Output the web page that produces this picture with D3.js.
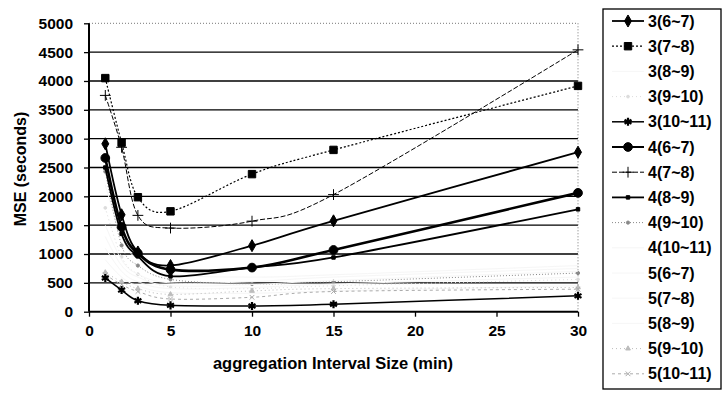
<!DOCTYPE html>
<html>
<head>
<meta charset="utf-8">
<script src="https://cdn.jsdelivr.net/npm/d3@7"></script>
<style>
  body { margin: 0; background: #fff; }
  text { font-family: "Liberation Sans", Arial, sans-serif; fill: #000; }
</style>
</head>
<body>
<script>
// aggregation interval sizes (min)
const intervals = [1, 2, 3, 5, 10, 15, 30];
const yTicks = [0, 500, 1000, 1500, 2000, 2500, 3000, 3500, 4000, 4500, 5000];
const xTicks = [0, 5, 10, 15, 20, 25, 30];

const seriesNames = [
  "3(6~7)", "3(7~8)", "3(8~9)", "3(9~10)", "3(10~11)",
  "4(6~7)", "4(7~8)", "4(8~9)", "4(9~10)", "4(10~11)",
  "5(6~7)", "5(7~8)", "5(8~9)", "5(9~10)", "5(10~11)"
];

// MSE (seconds)
const s3_6_7 = [2910, 1680, 1035, 800, 1145, 1575, 2765];
const s3_7_8 = [4050, 2930, 1985, 1740, 2385, 2805, 3915];
const s3_8_9 = [2200, 1300, 900, 650, 600, 640, 800];
const s3_9_10 = [1800, 950, 650, 430, 400, 450, 560];
const s3_10_11 = [585, 375, 190, 110, 100, 130, 275];
const s4_6_7 = [2665, 1470, 1010, 730, 765, 1070, 2060];
const s4_7_8 = [3750, 2850, 1670, 1450, 1570, 2030, 4540];
const s4_8_9 = [2500, 1350, 960, 615, 770, 940, 1775];
const s4_9_10 = [2430, 1150, 800, 560, 480, 520, 670];
const s4_10_11 = [900, 600, 450, 330, 320, 360, 450];
const s5_6_7 = [1500, 900, 650, 500, 520, 600, 750];
const s5_7_8 = [1300, 800, 600, 450, 470, 540, 700];
const s5_8_9 = [1100, 700, 520, 400, 420, 480, 600];
const s5_9_10 = [680, 520, 400, 300, 360, 400, 420];
const s5_10_11 = [640, 470, 350, 220, 250, 350, 390];

const allValues = [
  s3_6_7, s3_7_8, s3_8_9, s3_9_10, s3_10_11,
  s4_6_7, s4_7_8, s4_8_9, s4_9_10, s4_10_11,
  s5_6_7, s5_7_8, s5_8_9, s5_9_10, s5_10_11
];

// look of each series: stroke, width, dash, marker
const styles = [
  { c: "#000", w: 1.8, dash: null, sym: d3.symbolDiamond, size: 42, fill: true },
  { c: "#000", w: 1.2, dash: "2,2", sym: d3.symbolSquare, size: 55, fill: true },
  { c: "#f6f6f6", w: 1, dash: null, sym: null },
  { c: "#dcdcdc", w: 1, dash: "1,3", sym: d3.symbolCircle, size: 6, fill: true },
  { c: "#000", w: 1.5, dash: null, sym: d3.symbolAsterisk, size: 45, fill: false, sw: 2.2 },
  { c: "#000", w: 2.6, dash: null, sym: d3.symbolCircle, size: 60, fill: true },
  { c: "#000", w: 1, dash: "5,2", sym: d3.symbolPlus, size: 40, fill: false, sw: 1 },
  { c: "#000", w: 1.8, dash: null, sym: d3.symbolSquare, size: 12, fill: true },
  { c: "#888", w: 1, dash: "1,2", sym: d3.symbolCircle, size: 8, fill: true },
  { c: "#f6f6f6", w: 1, dash: null, sym: null },
  { c: "#f6f6f6", w: 1, dash: null, sym: null },
  { c: "#f6f6f6", w: 1, dash: null, sym: null },
  { c: "#f6f6f6", w: 1, dash: null, sym: null },
  { c: "#bcbcbc", w: 1, dash: "1,3", sym: d3.symbolTriangle, size: 10, fill: true },
  { c: "#ababab", w: 1, dash: "3,3", sym: d3.symbolTimes, size: 16, fill: false, sw: 1 }
];

const width = 724;
const height = 396;
const plot = { left: 89, right: 578, top: 23.3, bottom: 311.7 };

const svg = d3
  .select("body")
  .append("svg")
  .attr("width", width)
  .attr("height", height);

const x = d3.scaleLinear().domain([0, 30]).range([plot.left, plot.right]);
const y = d3.scaleLinear().domain([0, 5000]).range([plot.bottom, plot.top]);

// horizontal grid
svg
  .append("g")
  .selectAll("line")
  .data(yTicks.filter((d) => d > 0 && d < 5000))
  .enter()
  .append("line")
  .attr("x1", plot.left)
  .attr("x2", plot.right)
  .attr("y1", (d) => y(d))
  .attr("y2", (d) => y(d))
  .attr("stroke", "#000")
  .attr("stroke-width", 1.3);

// dotted plot border top/right
svg
  .append("path")
  .attr("d", `M${plot.left},${y(5000)}H${plot.right}V${plot.bottom}`)
  .attr("fill", "none")
  .attr("stroke", "#777")
  .attr("stroke-width", 1)
  .attr("stroke-dasharray", "1,2");

// axes
const yAxis = d3.axisLeft(y).tickValues(yTicks).tickFormat(d3.format("d")).tickSize(5).tickPadding(11);
const gy = svg.append("g").attr("transform", `translate(${plot.left},0)`).call(yAxis);
const xAxis = d3.axisBottom(x).tickValues(xTicks).tickFormat(d3.format("d")).tickSize(5).tickPadding(8);
const gx = svg.append("g").attr("transform", `translate(0,${plot.bottom})`).call(xAxis);
[gy, gx].forEach((g) => {
  g.select(".domain").attr("stroke", "#000").attr("stroke-width", 2);
  g.selectAll(".tick line").attr("stroke", "#000").attr("stroke-width", 1.3);
  g.selectAll(".tick text")
    .attr("font-size", 15.5)
    .attr("font-weight", "bold")
    .attr("font-family", "Liberation Sans, Arial, sans-serif")
    .attr("fill", "#000");
});
gy.select(".domain").attr("d", `M0,${plot.top}V${plot.bottom}`);
gx.select(".domain").attr("d", `M${plot.left},0H${plot.right}`);

// axis titles
svg
  .append("text")
  .attr("x", 333)
  .attr("y", 369)
  .attr("text-anchor", "middle")
  .attr("font-size", 16.5)
  .attr("font-weight", "bold")
  .text("aggregation Interval Size (min)");

svg
  .append("text")
  .attr("transform", "translate(26,169) rotate(-90)")
  .attr("text-anchor", "middle")
  .attr("font-size", 16)
  .attr("font-weight", "bold")
  .text("MSE (seconds)");

// lines, drawn light ones first
const line = d3
  .line()
  .x((d) => x(d[0]))
  .y((d) => y(d[1]))
  .curve(d3.curveCardinal.tension(0));

const order = d3.range(seriesNames.length).sort((a, b) => {
  const da = styles[a].c === "#000" ? 1 : 0;
  const db = styles[b].c === "#000" ? 1 : 0;
  return da - db;
});

function drawMarker(g, st, px, py) {
  if (!st.sym) return;
  g.append("path")
    .attr("transform", `translate(${px},${py})`)
    .attr("d", d3.symbol().type(st.sym).size(st.size)())
    .attr("fill", st.fill ? st.c : "none")
    .attr("stroke", st.c)
    .attr("stroke-width", st.sw || 1);
}

const gLines = svg.append("g");
order.forEach((i) => {
  const st = styles[i];
  const pts = intervals.map((v, j) => [v, allValues[i][j]]);
  const g = gLines.append("g");
  g.append("path")
    .attr("d", line(pts))
    .attr("fill", "none")
    .attr("stroke", st.c)
    .attr("stroke-width", st.w)
    .attr("stroke-dasharray", st.dash);
  pts.forEach((p) => drawMarker(g, st, x(p[0]), y(p[1])));
});

// legend
const legend = svg.append("g");
legend
  .append("rect")
  .attr("x", 603)
  .attr("y", 9)
  .attr("width", 118)
  .attr("height", 380)
  .attr("fill", "#fff")
  .attr("stroke", "#000")
  .attr("stroke-width", 1.3);

seriesNames.forEach((name, i) => {
  const st = styles[i];
  const ly = 21 + i * 25.2;
  const g = legend.append("g");
  g.append("line")
    .attr("x1", 612)
    .attr("x2", 644)
    .attr("y1", ly)
    .attr("y2", ly)
    .attr("stroke", st.c)
    .attr("stroke-width", Math.min(st.w, 2))
    .attr("stroke-dasharray", st.dash);
  drawMarker(g, st, 628, ly);
  g.append("text")
    .attr("x", 648)
    .attr("y", ly + 5.5)
    .attr("font-size", 16)
    .attr("font-weight", "bold")
    .text(name);
});
</script>
</body>
</html>
